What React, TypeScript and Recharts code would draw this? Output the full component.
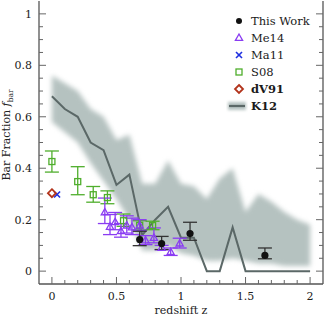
import React from 'react';
import { ComposedChart, XAxis, YAxis, Area, Line, Scatter, ErrorBar, Legend } from 'recharts';

const FONT = '"DejaVu Serif", "Liberation Serif", serif';

// K12 model: median line and shaded range
const k12Z = [0, 0.1, 0.2, 0.3, 0.4, 0.5, 0.6, 0.7, 0.8, 0.9, 1.0, 1.1, 1.2, 1.3, 1.4, 1.5, 1.6, 1.7, 1.8, 1.9, 2.0];
const k12Median = [0.68, 0.63, 0.6, 0.5, 0.47, 0.335, 0.375, 0.14, 0.2, 0.25, 0.13, 0.13, 0, 0, 0.17, 0, 0, 0, 0, 0, 0];
const k12Low = [0.58, 0.54, 0.5, 0.42, 0.35, 0.28, 0.2, 0.08, 0.08, 0.1, 0.07, 0.06, 0.04, 0.04, 0.05, 0.04, 0.03, 0.03, 0.02, 0.02, 0.02];
const k12High = [0.76, 0.73, 0.7, 0.63, 0.6, 0.51, 0.53, 0.34, 0.34, 0.43, 0.34, 0.33, 0.28, 0.36, 0.4, 0.23, 0.3, 0.27, 0.23, 0.2, 0.18];

// This Work
const thisZ = [0.68, 0.85, 1.07, 1.65];
const thisF = [0.123, 0.107, 0.146, 0.061];
const thisLo = [0.099, 0.084, 0.12, 0.048];
const thisHi = [0.155, 0.135, 0.19, 0.09];

// Me14
const meZ = [0.41, 0.45, 0.49, 0.535, 0.58, 0.62, 0.68, 0.725, 0.79, 0.85, 0.92, 0.99];
const meF = [0.228, 0.172, 0.19, 0.155, 0.177, 0.17, 0.177, 0.119, 0.129, 0.09, 0.074, 0.107];
const meLo = [0.185, 0.142, 0.161, 0.132, 0.148, 0.142, 0.159, 0.103, 0.11, 0.083, 0.061, 0.09];
const meHi = [0.284, 0.22, 0.228, 0.185, 0.215, 0.206, 0.2, 0.138, 0.168, 0.1, 0.09, 0.128];

// S08
const sZ = [0, 0.2, 0.32, 0.43, 0.555, 0.68, 0.78];
const sF = [0.426, 0.348, 0.297, 0.286, 0.196, 0.178, 0.177];
const sLo = [0.385, 0.297, 0.268, 0.262, 0.174, 0.16, 0.161];
const sHi = [0.467, 0.406, 0.329, 0.312, 0.222, 0.196, 0.194];

// Ma11, dV91
const maZ = [0.04];
const maF = [0.298];
const dvZ = [0];
const dvF = [0.303];

// ticks
const xMajor = [0, 0.5, 1, 1.5, 2];
const xTicks = [0, 0.1, 0.2, 0.3, 0.4, 0.5, 0.6, 0.7, 0.8, 0.9, 1, 1.1, 1.2, 1.3, 1.4, 1.5, 1.6, 1.7, 1.8, 1.9, 2];
const yMajor = [0, 0.2, 0.4, 0.6, 0.8, 1];
const yTicks = [0, 0.05, 0.1, 0.15, 0.2, 0.25, 0.3, 0.35, 0.4, 0.45, 0.5, 0.55, 0.6, 0.65, 0.7, 0.75, 0.8, 0.85, 0.9, 0.95, 1];

const C_THIS = '#111111';
const C_ME = '#8a3cf2';
const C_MA = '#1f2fe0';
const C_S08 = '#4fae2c';
const C_DV = '#b2331b';
const C_BAND = '#b5c2c0';
const C_LINE = '#5b6867';
const C_AXIS = '#555555';

const bandData = k12Z.map((z, i) => ({ z, band: [k12Low[i], k12High[i]], k12: k12Median[i] }));
const mk = (zs: number[], fs: number[], lo?: number[], hi?: number[]) =>
  zs.map((z, i) => ({ z, f: fs[i], err: lo && hi ? [fs[i] - lo[i], hi[i] - fs[i]] : [0, 0] }));
const thisData = mk(thisZ, thisF, thisLo, thisHi);
const meData = mk(meZ, meF, meLo, meHi);
const sData = mk(sZ, sF, sLo, sHi);
const maData = mk(maZ, maF);
const dvData = mk(dvZ, dvF);

const isMajor = (v: number, list: number[]) => list.some((m) => Math.abs(m - v) < 1e-6);

const BottomTick = (p: any) => {
  const major = isMajor(p.payload.value, xMajor);
  return (
    <g>
      <line x1={p.x} x2={p.x} y1={p.y} y2={p.y - (major ? 7 : 4)} stroke="#666" strokeWidth={1} />
      {major && (
        <text x={p.x} y={p.y + 16} textAnchor="middle" fontSize={11} fontFamily={FONT} fill="#222">
          {String(p.payload.value)}
        </text>
      )}
    </g>
  );
};
const TopTick = (p: any) => {
  const major = isMajor(p.payload.value, xMajor);
  return <line x1={p.x} x2={p.x} y1={p.y} y2={p.y + (major ? 7 : 4)} stroke="#666" strokeWidth={1} />;
};
const LeftTick = (p: any) => {
  const major = isMajor(p.payload.value, yMajor);
  return (
    <g>
      <line x1={p.x} x2={p.x + (major ? 7 : 4)} y1={p.y} y2={p.y} stroke="#666" strokeWidth={1} />
      {major && (
        <text x={p.x - 7} y={p.y + 4} textAnchor="end" fontSize={11} fontFamily={FONT} fill="#222">
          {String(p.payload.value)}
        </text>
      )}
    </g>
  );
};
const RightTick = (p: any) => {
  const major = isMajor(p.payload.value, yMajor);
  return <line x1={p.x} x2={p.x - (major ? 7 : 4)} y1={p.y} y2={p.y} stroke="#666" strokeWidth={1} />;
};

const Circle = (p: any) => <circle cx={p.cx} cy={p.cy} r={3.6} fill={C_THIS} />;
const Tri = (p: any) => {
  const s = 4;
  return (
    <polygon
      points={`${p.cx},${p.cy - s} ${p.cx - s * 0.9},${p.cy + s * 0.6} ${p.cx + s * 0.9},${p.cy + s * 0.6}`}
      fill="none"
      stroke={C_ME}
      strokeWidth={1.3}
    />
  );
};
const Sq = (p: any) => (
  <rect x={p.cx - 3} y={p.cy - 3} width={6} height={6} fill="none" stroke={C_S08} strokeWidth={1.3} />
);
const Cross = (p: any) => (
  <g stroke={C_MA} strokeWidth={1.6}>
    <line x1={p.cx - 3} y1={p.cy - 3} x2={p.cx + 3} y2={p.cy + 3} />
    <line x1={p.cx - 3} y1={p.cy + 3} x2={p.cx + 3} y2={p.cy - 3} />
  </g>
);
const Diamond = (p: any) => (
  <polygon
    points={`${p.cx},${p.cy - 4} ${p.cx + 4},${p.cy} ${p.cx},${p.cy + 4} ${p.cx - 4},${p.cy}`}
    fill="none"
    stroke={C_DV}
    strokeWidth={1.8}
  />
);

const legendItems = [
  { name: 'This Work', kind: 'circle' },
  { name: 'Me14', kind: 'tri' },
  { name: 'Ma11', kind: 'cross' },
  { name: 'S08', kind: 'sq' },
  { name: 'dV91', kind: 'diamond' },
  { name: 'K12', kind: 'band' },
];

const LegendMarker = ({ kind }: { kind: string }) => {
  const c = { cx: 13, cy: 8 };
  let m: any = null;
  if (kind === 'circle') m = <circle cx={13} cy={8} r={3} fill={C_THIS} />;
  if (kind === 'tri') m = <Tri {...c} />;
  if (kind === 'cross') m = <Cross {...c} />;
  if (kind === 'sq') m = <Sq {...c} />;
  if (kind === 'diamond') m = <Diamond {...c} />;
  if (kind === 'band')
    m = (
      <g>
        <rect x={2} y={4} width={18} height={8} fill={C_BAND} style={{ filter: 'blur(1.5px)' }} />
        <line x1={3} x2={19} y1={8} y2={8} stroke={C_LINE} strokeWidth={2.2} />
      </g>
    );
  return (
    <svg width={22} height={16} style={{ display: 'block' }}>
      {m}
    </svg>
  );
};

const renderLegend = () => (
  <div style={{ fontFamily: FONT, fontSize: 11.5, color: '#1a1a1a' }}>
    {legendItems.map((it) => (
      <div key={it.name} style={{ display: 'flex', alignItems: 'center', height: 17 }}>
        <LegendMarker kind={it.kind} />
        <span style={{ marginLeft: 3, fontWeight: it.kind === 'band' || it.kind === 'diamond' ? 'bold' : 'normal' }}>
          {it.name}
        </span>
      </div>
    ))}
  </div>
);

export default function App() {
  return (
    <div style={{ position: 'absolute', left: 0, top: 0, width: 332, height: 321, background: '#fff' }}>
      <style>{`.k12band { filter: blur(2.5px); } .k12line { filter: blur(0.4px); }`}</style>
      <ComposedChart width={332} height={321} data={bandData} margin={{ top: 1, right: 0, bottom: 0, left: 0 }}>
        <XAxis
          xAxisId="b"
          type="number"
          dataKey="z"
          domain={[-0.1, 2.1]}
          ticks={xTicks}
          interval={0}
          tickSize={0}
          tickMargin={0}
          tick={BottomTick}
          axisLine={{ stroke: C_AXIS, strokeWidth: 1.3 }}
          height={37}
          allowDataOverflow
          label={{
            content: () => (
              <text x={181} y={314} textAnchor="middle" fontSize={11} fontFamily={FONT} fill="#222">
                redshift z
              </text>
            ),
          }}
        />
        <XAxis
          xAxisId="t"
          orientation="top"
          type="number"
          dataKey="z"
          domain={[-0.1, 2.1]}
          ticks={xTicks}
          interval={0}
          tickSize={0}
          tickMargin={0}
          tick={TopTick}
          axisLine={{ stroke: C_AXIS, strokeWidth: 1.3 }}
          height={0}
          allowDataOverflow
        />
        <YAxis
          yAxisId="l"
          type="number"
          domain={[-0.05, 1.05]}
          ticks={yTicks}
          interval={0}
          tickSize={0}
          tickMargin={0}
          tick={LeftTick}
          axisLine={{ stroke: C_AXIS, strokeWidth: 1.3 }}
          width={39}
          allowDataOverflow
          label={{
            content: () => (
              <text
                x={10}
                y={135}
                transform="rotate(-90, 10, 135)"
                textAnchor="middle"
                fontSize={11}
                fontFamily={FONT}
                fill="#222"
              >
                Bar Fraction <tspan fontStyle="italic">f</tspan>
                <tspan fontSize={7.5} dy={3}>bar</tspan>
              </text>
            ),
          }}
        />
        <YAxis
          yAxisId="r"
          orientation="right"
          type="number"
          domain={[-0.05, 1.05]}
          ticks={yTicks}
          interval={0}
          tickSize={0}
          tickMargin={0}
          tick={RightTick}
          axisLine={{ stroke: C_AXIS, strokeWidth: 1.3 }}
          width={9}
          allowDataOverflow
        />
        <Area
          xAxisId="b"
          yAxisId="l"
          dataKey="band"
          type="linear"
          fill={C_BAND}
          fillOpacity={1}
          stroke="none"
          className="k12band"
          isAnimationActive={false}
        />
        <Line
          xAxisId="b"
          yAxisId="l"
          dataKey="k12"
          type="linear"
          stroke={C_LINE}
          strokeWidth={2}
          dot={false}
          className="k12line"
          isAnimationActive={false}
        />
        <Scatter xAxisId="b" yAxisId="l" data={sData} dataKey="f" shape={Sq} isAnimationActive={false}>
          <ErrorBar dataKey="err" direction="y" width={7} stroke={C_S08} strokeWidth={1.3} />
        </Scatter>
        <Scatter xAxisId="b" yAxisId="l" data={meData} dataKey="f" shape={Tri} isAnimationActive={false}>
          <ErrorBar dataKey="err" direction="y" width={7} stroke={C_ME} strokeWidth={1.3} />
        </Scatter>
        <Scatter xAxisId="b" yAxisId="l" data={thisData} dataKey="f" shape={Circle} isAnimationActive={false}>
          <ErrorBar dataKey="err" direction="y" width={7} stroke="#333" strokeWidth={1.3} />
        </Scatter>
        <Scatter xAxisId="b" yAxisId="l" data={maData} dataKey="f" shape={Cross} isAnimationActive={false} />
        <Scatter xAxisId="b" yAxisId="l" data={dvData} dataKey="f" shape={Diamond} isAnimationActive={false} />
        <Legend
          layout="vertical"
          align="center"
          verticalAlign="middle"
          content={renderLegend}
          wrapperStyle={{ top: 12, left: 226, width: 100, margin: 0 }}
        />
      </ComposedChart>
    </div>
  );
}
